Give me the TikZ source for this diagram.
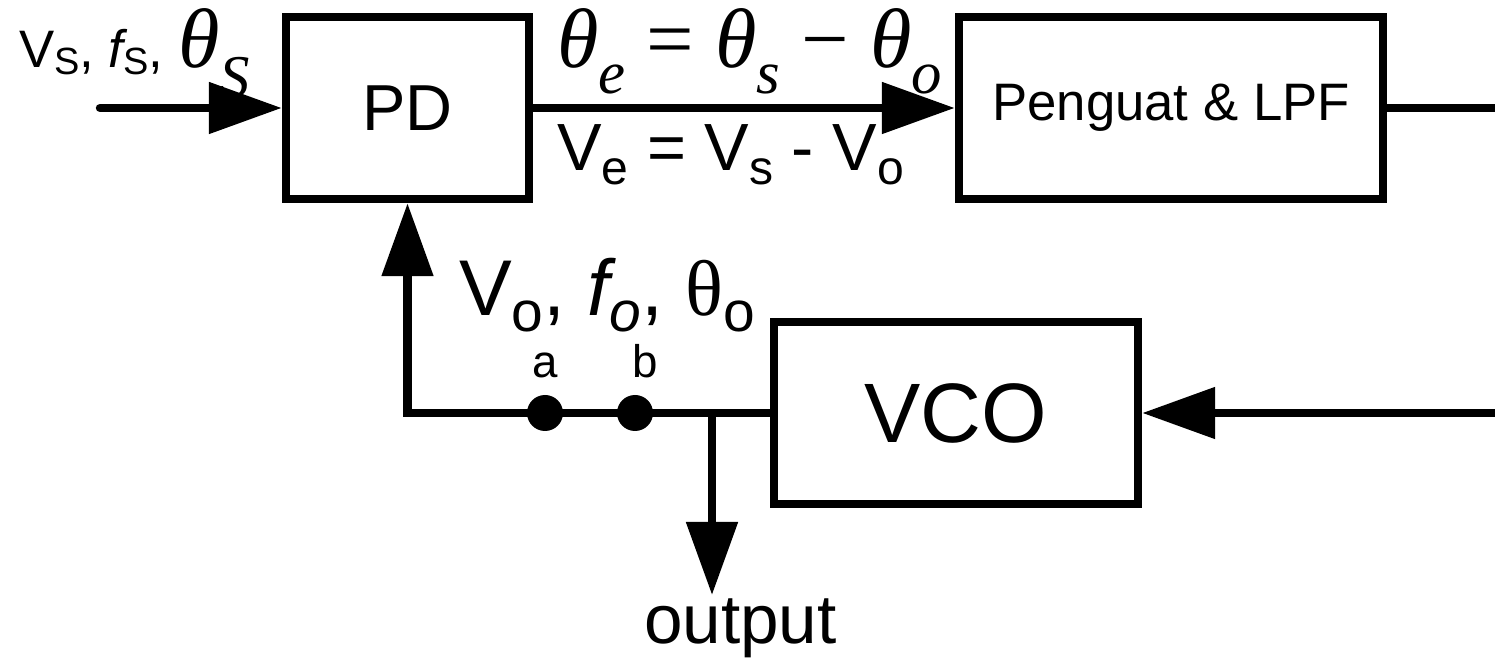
\documentclass[tikz,border=0pt]{standalone}
\usepackage{fontspec}
\setmainfont{Liberation Sans}
\newfontfamily\tmsfont{Liberation Serif}
\usepackage{graphicx}
\usetikzlibrary{arrows.meta}
\newcommand{\lowsub}[2][0.25em]{\raisebox{-#1}{\scalebox{0.72}{#2}}}
\newcommand{\thi}{{\tmsfont\itshape θ}}
\newcommand{\thu}{{\tmsfont θ}}
\newcommand{\fsz}[1]{\fontsize{#1}{#1}\selectfont}

\begin{document}
\begin{tikzpicture}[
  >={Triangle[length=7.3mm, width=5mm]},
  line width=2.4pt,
  blockbox/.style={draw, rectangle, inner sep=0pt, minimum height=1.82cm},
  ptnode/.style={circle, fill, inner sep=0pt, minimum size=3.6mm},
  sigtext/.style={anchor=base west, inner sep=0pt},
  every node/.style={font=\fsz{15pt}}
]
\useasboundingbox (0,0) rectangle (14.95,6.58);

\node[blockbox, minimum width=2.43cm, font=\fsz{18.5pt}] (PD) at (4.075,5.50) {PD};
\node[blockbox, minimum width=4.24cm] (LPF) at (11.71,5.50) {Penguat \& LPF};
\node[blockbox, minimum width=3.64cm, font=\fsz{24pt}] (VCO) at (9.56,2.45) {VCO};

\coordinate (in) at (1.00,5.50);
\coordinate (lpfout) at (14.95,5.50);
\coordinate (vcoin) at (14.95,2.45);
\coordinate (tap) at (7.12,2.45);
\coordinate (outtip) at (7.12,0.63);

% signal labels
\node[sigtext] (vsin) at (0.15,5.90) {V\lowsub[0.12em]{S}, {\itshape f}\lowsub[0.12em]{S}, {\fsz{24pt}\thi\lowsub[0.35em]{\tmsfont\itshape S}}};
\node[sigtext, font=\fsz{24pt}\tmsfont] (theq) at (5.53,5.90) {\thi\lowsub[0.3em]{\itshape e} = \thi\lowsub[0.3em]{\itshape s} − \thi\lowsub[0.3em]{\itshape o}};
\node[sigtext, font=\fsz{19pt}] (veq) at (5.53,4.87) {V\lowsub[0.2em]{e} = V\lowsub[0.2em]{s} - V\lowsub[0.2em]{o}};
\node[sigtext, font=\fsz{22.5pt}] (vofb) at (4.55,3.42) {V\lowsub[0.2em]{o}, {\itshape f}\lowsub[0.2em]{\itshape o}, \thu\lowsub[0.2em]{o}};

\draw[->, line cap=round] (in) -- (PD);
\draw[->] (PD) -- (LPF);
\draw (LPF) -- (lpfout);
\draw[->] (vcoin) -- (VCO);
\draw[->] (VCO.west) -| (PD.south);
\draw[->] (tap) -- (outtip);

\node[ptnode] (a) at (5.45,2.45) {};
\node[ptnode] (b) at (6.35,2.45) {};
\node[anchor=base, font=\fsz{13pt}] (la) at (5.45,2.80) {a};
\node[anchor=base, font=\fsz{13pt}] (lb) at (6.45,2.80) {b};
\node[sigtext, font=\fsz{19.7pt}] (outlbl) at (6.40,0.15) {output};
\end{tikzpicture}
\end{document}
